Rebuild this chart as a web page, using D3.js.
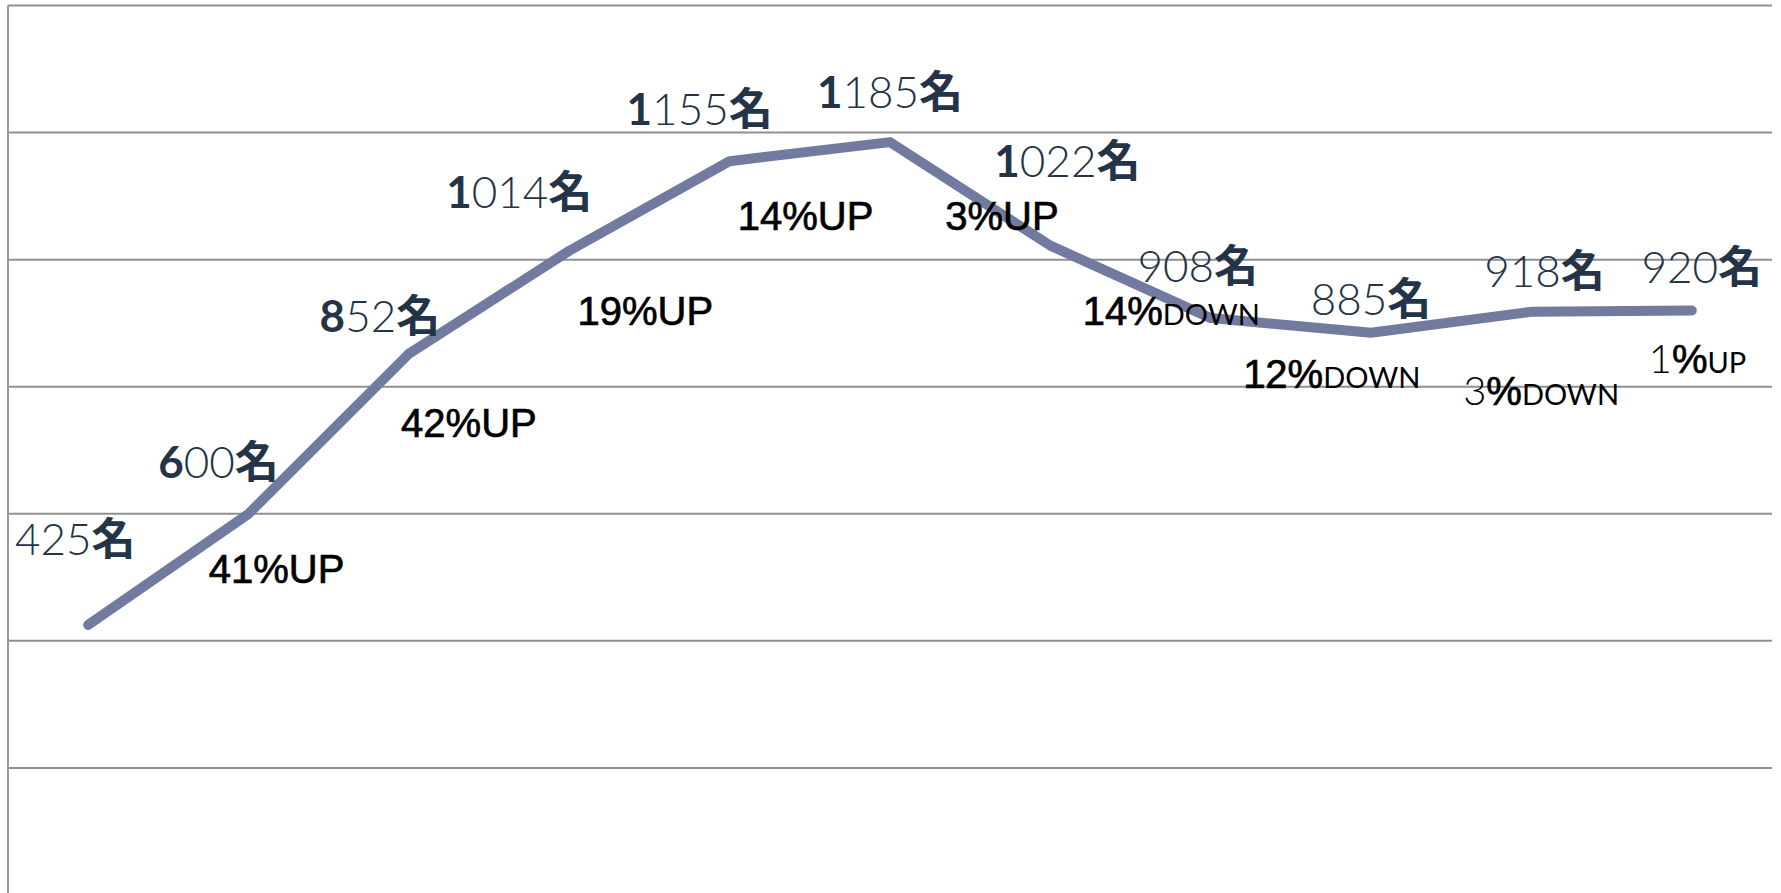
<!DOCTYPE html>
<html>
<head>
<meta charset="utf-8">
<script src="https://cdn.jsdelivr.net/npm/d3@7"></script>
<style>
  html, body { margin: 0; padding: 0; background: #fff; overflow: hidden; }
  svg { display: block; }
</style>
</head>
<body>
<svg id="chart"></svg>
<script>
// data
const categories = ["1", "2", "3", "4", "5", "6", "7", "8", "9", "10", "11"];
const members = [425, 600, 852, 1014, 1155, 1185, 1022, 908, 885, 918, 920];
const changeLabels = [null, "41%UP", "42%UP", "19%UP", "14%UP", "3%UP", "14%DOWN", "12%DOWN", "3%DOWN", "1%UP", null];
const yTicks = [0, 200, 400, 600, 800, 1000, 1200, 1400];

// which value labels start with a bold digit
const boldFirst = [false, true, true, true, true, true, true, false, false, false, false];

// label placement, relative to the point (px)
const valueOffsets = [[-13, -70], [-30, -36], [-29, -22], [-50, -43], [-30, -36], [0, -34],
                      [17, -69], [-13, -36], [0, -18], [13, -25], [10, -27]];
const changeOffsets = [null, [28, 69], [60, 83], [76, 74], [76, 69], [112, 88],
                       [121, 79], [121, 70], [170, 72], [166, 61], null];

const width = 1781, height = 893;
const plotLeft = 8, plotRight = 1772, plotTop = 5.5, plotBottom = 895;

const svg = d3.select("#chart")
    .attr("width", width)
    .attr("height", height);

const x = d3.scalePoint()
    .domain(categories)
    .range([plotLeft, plotRight])
    .padding(0.5);

const y = d3.scaleLinear()
    .domain([0, 1400])
    .range([plotBottom, plotTop]);

// horizontal grid lines
svg.append("g")
    .selectAll("line")
    .data(yTicks)
    .enter()
    .append("line")
    .attr("x1", plotLeft)
    .attr("x2", plotRight)
    .attr("y1", d => y(d))
    .attr("y2", d => y(d))
    .attr("stroke", "#8f8f92")
    .attr("stroke-width", 2);

// left axis line
svg.append("line")
    .attr("x1", plotLeft).attr("x2", plotLeft)
    .attr("y1", plotTop).attr("y2", height)
    .attr("stroke", "#9a9a9a")
    .attr("stroke-width", 2);

// the line
const line = d3.line()
    .x((d, i) => x(categories[i]))
    .y(d => y(d));

svg.append("path")
    .datum(members)
    .attr("d", line)
    .attr("fill", "none")
    .attr("stroke", "#717ba0")
    .attr("stroke-width", 10)
    .attr("stroke-linecap", "round")
    .attr("stroke-linejoin", "round");

// value labels
const numFont = "Lato, 'Noto Sans CJK JP', sans-serif";
const valueText = svg.append("g")
    .selectAll("text")
    .data(members)
    .enter()
    .append("text")
    .attr("x", (d, i) => x(categories[i]) + valueOffsets[i][0])
    .attr("y", (d, i) => y(d) + valueOffsets[i][1])
    .attr("text-anchor", "middle")
    .attr("fill", "#243447")
    .style("font-family", numFont)
    .style("font-size", "44px")
    .style("font-weight", 300);

valueText.each(function(d, i) {
    const t = d3.select(this);
    const s = String(d);
    if (boldFirst[i]) {
        t.append("tspan").style("font-weight", 700).text(s[0]);
        t.append("tspan").text(s.slice(1));
    } else {
        t.append("tspan").text(s);
    }
    t.append("tspan")
        .style("font-family", "'Noto Sans CJK JP', sans-serif")
        .style("font-weight", 700)
        .text("名");
});

// change labels
const changeIdx = changeLabels.map((d, i) => i).filter(i => changeLabels[i]);
const changeText = svg.append("g")
    .selectAll("text")
    .data(changeIdx)
    .enter()
    .append("text")
    .attr("x", i => x(categories[i]) + changeOffsets[i][0])
    .attr("y", i => y(members[i]) + changeOffsets[i][1])
    .attr("text-anchor", "middle")
    .attr("fill", "#000")
    .attr("stroke", "#000")
    .attr("stroke-width", 0.7)
    .style("font-family", "'Liberation Sans', Arial, sans-serif")
    .style("font-size", "40px");

changeText.each(function(i) {
    const t = d3.select(this);
    const m = changeLabels[i].match(/^(\d+)(%)(UP|DOWN)$/);
    const num = m[1], suffix = m[3];
    if (suffix === "UP" && i < 9) {
        t.text(changeLabels[i]);
        return;
    }
    if (i >= 8) {
        // thin number before the percent sign
        t.append("tspan").style("font-family", numFont).style("font-weight", 300)
            .attr("stroke-width", 0).text(num);
        t.append("tspan").text("%");
    } else {
        t.append("tspan").text(num + "%");
    }
    t.append("tspan")
        .style("font-family", numFont)
        .style("font-weight", 400)
        .attr("stroke-width", 0)
        .style("font-size", "29px")
        .text(suffix);
});
</script>
</body>
</html>
